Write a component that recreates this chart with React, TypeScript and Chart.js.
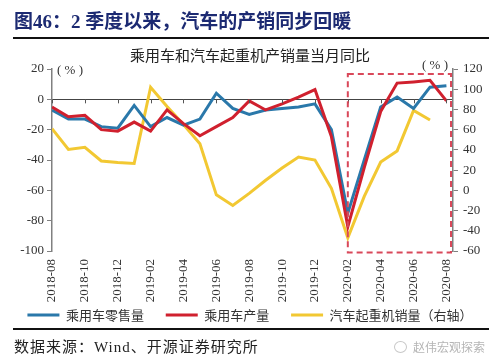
import React, { useEffect, useRef } from "react";
import { Chart, registerables } from "chart.js";

Chart.register(...registerables);

const months: string[] = [
  "2018-08", "2018-09", "2018-10", "2018-11", "2018-12",
  "2019-01", "2019-02", "2019-03", "2019-04", "2019-05", "2019-06", "2019-07",
  "2019-08", "2019-09", "2019-10", "2019-11", "2019-12",
  "2020-01", "2020-02", "2020-03", "2020-04", "2020-05", "2020-06", "2020-07", "2020-08",
];

const retailSales: (number | null)[] = [
  -7, -13, -13, -18, -19, -4, -18, -12, -17, -13, 4, -6,
  -10, -7, -6, -5, -3, -20, -75, -40, -5, 1.5, -6, 8, 9,
];

const production: (number | null)[] = [
  -5, -11.5, -10.5, -20, -21, -15, -21, -7, -16, -24, -18, -12,
  -1, -7, -3, 1.5, 6.4, -24.5, -84, -45, -8, 10.7, 11.5, 12.5, -1,
];

const craneSales: (number | null)[] = [
  61, 40.5, 42.5, 29, 27.5, 26.5, 102, 83, 65, 46, -4.5, -15,
  -3, 10, 22, 33, 30, 2, -47, -6, 28, 39, 79, 69.5, null,
];

const seriesNames: string[] = ["乘用车零售量", "乘用车产量", "汽车起重机销量（右轴）"];
const leftTicks = { min: -100, max: 20, step: 20 };
const rightTicks = { min: -60, max: 120, step: 20 };
const highlightStart = 18; // 2020-02
const highlightTop = 115;

const SERIF = "'Liberation Serif', 'Times New Roman', serif";
const CJK = "'Noto Sans CJK SC', sans-serif";

const toPoints = (arr: (number | null)[]) => arr.map((v, i) => ({ x: i, y: v }));

const extrasPlugin = {
  id: "extras",
  afterDatasetsDraw(chart: any) {
    const { ctx, chartArea, scales } = chart;
    const x = scales.x;
    const y = scales.y;
    const y1 = scales.y1;
    ctx.save();
    const y0 = y.getPixelForValue(0);
    ctx.strokeStyle = "#555";
    ctx.lineWidth = 1;
    for (let i = 0; i < months.length; i += 2) {
      const px = Math.round(x.getPixelForValue(i)) + 0.5;
      ctx.beginPath();
      ctx.moveTo(px, y0);
      ctx.lineTo(px, y0 + 4);
      ctx.stroke();
    }
    const bx0 = x.getPixelForValue(highlightStart);
    const bx1 = chartArea.right - 2;
    const by0 = y1.getPixelForValue(highlightTop);
    const by1 = chartArea.bottom + 1.5;
    ctx.strokeStyle = "#d9485a";
    ctx.lineWidth = 2;
    ctx.setLineDash([6, 4]);
    ctx.strokeRect(bx0, by0, bx1 - bx0, by1 - by0);
    ctx.setLineDash([]);
    ctx.fillStyle = "#333";
    ctx.font = `13px ${SERIF}`;
    ctx.textBaseline = "middle";
    ctx.textAlign = "left";
    ctx.fillText("( % )", chartArea.left + 5, chartArea.top + 2);
    ctx.textAlign = "right";
    ctx.fillText("( % )", chartArea.right - 5, chartArea.top - 3);
    ctx.restore();
  },
};

export default function App() {
  const canvasRef = useRef<HTMLCanvasElement | null>(null);

  useEffect(() => {
    if (!canvasRef.current) return;
    const chart = new Chart(canvasRef.current, {
      type: "line",
      data: {
        datasets: [
          {
            label: seriesNames[0],
            data: toPoints(retailSales),
            borderColor: "#2a78aa",
            backgroundColor: "#2a78aa",
            borderWidth: 3,
            pointRadius: 0,
            tension: 0,
            yAxisID: "y",
            order: 2,
          },
          {
            label: seriesNames[1],
            data: toPoints(production),
            borderColor: "#d0202e",
            backgroundColor: "#d0202e",
            borderWidth: 3,
            pointRadius: 0,
            tension: 0,
            yAxisID: "y",
            order: 1,
          },
          {
            label: seriesNames[2],
            data: toPoints(craneSales),
            borderColor: "#f2c832",
            backgroundColor: "#f2c832",
            borderWidth: 3,
            pointRadius: 0,
            tension: 0,
            yAxisID: "y1",
            order: 3,
          },
        ],
      },
      options: {
        responsive: false,
        animation: false,
        devicePixelRatio: 1,
        layout: { padding: { top: 0, left: 0, right: 0, bottom: 24.5 } },
        plugins: {
          title: {
            display: true,
            text: "乘用车和汽车起重机产销量当月同比",
            color: "#222",
            font: { family: CJK, size: 15, weight: "normal" },
            padding: { top: 46, bottom: 5 },
          },
          legend: {
            display: true,
            position: "bottom",
            labels: {
              usePointStyle: true,
              pointStyle: "line",
              pointStyleWidth: 32,
              color: "#333",
              font: { family: CJK, size: 13 },
              padding: 3,
              sort: (a: any, b: any) => a.datasetIndex - b.datasetIndex,
              generateLabels: (chart: any) => {
                const items = (Chart.defaults.plugins.legend.labels as any).generateLabels(chart);
                return items.map((it: any) => ({
                  ...it,
                  text: it.datasetIndex === seriesNames.length - 1 ? it.text : it.text + "\u3000  ",
                }));
              },
            },
          },
          tooltip: { enabled: false },
        },
        scales: {
          x: {
            type: "linear",
            min: 0,
            max: 24.4,
            grid: { display: false, drawTicks: false, tickLength: 0 },
            border: { display: false },
            ticks: {
              stepSize: 2,
              includeBounds: false,
              autoSkip: false,
              minRotation: 90,
              maxRotation: 90,
              padding: 8,
              color: "#333",
              font: { family: SERIF, size: 13 },
              callback: (v: any) => months[v as number] ?? "",
            },
            afterFit: (s: any) => {
              s.height = 54.5;
            },
          },
          y: {
            position: "left",
            min: leftTicks.min,
            max: leftTicks.max,
            ticks: {
              stepSize: leftTicks.step,
              color: "#333",
              padding: 3,
              font: { family: SERIF, size: 13 },
            },
            grid: {
              drawOnChartArea: true,
              color: (c: any) => (c.tick && c.tick.value === 0 ? "#444" : "rgba(0,0,0,0)"),
              tickColor: "#808080",
              tickLength: 5,
              lineWidth: 1,
            },
            border: { display: true, color: "#808080", width: 1.5 },
            afterFit: (s: any) => {
              s.width = 52;
            },
          },
          y1: {
            position: "right",
            min: rightTicks.min,
            max: rightTicks.max,
            ticks: {
              stepSize: rightTicks.step,
              color: "#333",
              padding: 5,
              font: { family: SERIF, size: 13 },
            },
            grid: {
              drawOnChartArea: false,
              tickColor: "#808080",
              tickLength: 5,
            },
            border: { display: true, color: "#808080", width: 1.5 },
            afterFit: (s: any) => {
              s.width = 47;
            },
          },
        },
      },
      plugins: [extrasPlugin],
    } as any);
    return () => chart.destroy();
  }, []);

  return (
    <div
      style={{
        position: "fixed",
        left: 0,
        top: 0,
        width: 500,
        height: 356,
        background: "#fff",
        overflow: "hidden",
      }}
    >
      <canvas
        ref={canvasRef}
        width={500}
        height={356}
        style={{ position: "absolute", left: 0, top: 0, width: 500, height: 356 }}
      />
      <div
        style={{
          position: "absolute",
          left: 14,
          top: 10,
          height: 23,
          lineHeight: "23px",
          fontFamily: `'Liberation Serif', 'Noto Sans CJK SC', serif`,
          fontWeight: 700,
          fontSize: 19,
          color: "#1c2a72",
          whiteSpace: "nowrap",
        }}
      >
        图46：2 季度以来，汽车的产销同步回暖
      </div>
      <div style={{ position: "absolute", left: 13, top: 37, width: 476, height: 2, background: "#111" }} />
      <div style={{ position: "absolute", left: 13, top: 328, width: 476, height: 2, background: "#111" }} />
      <div
        style={{
          position: "absolute",
          left: 14,
          top: 337,
          height: 20,
          lineHeight: "20px",
          fontFamily: `'Liberation Serif', 'Noto Sans CJK SC', serif`,
          fontSize: 15,
          letterSpacing: 1,
          color: "#222",
          whiteSpace: "nowrap",
        }}
      >
        数据来源：Wind、开源证券研究所
      </div>
      <div
        style={{
          position: "absolute",
          left: 394,
          top: 341,
          width: 11,
          height: 10,
          borderRadius: "50%",
          border: "1px solid #c8c8c8",
        }}
      />
      <div
        style={{
          position: "absolute",
          left: 413,
          top: 338,
          height: 18,
          lineHeight: "18px",
          fontFamily: CJK,
          fontSize: 12,
          color: "#b5b5b5",
          whiteSpace: "nowrap",
        }}
      >
        赵伟宏观探索
      </div>
    </div>
  );
}
